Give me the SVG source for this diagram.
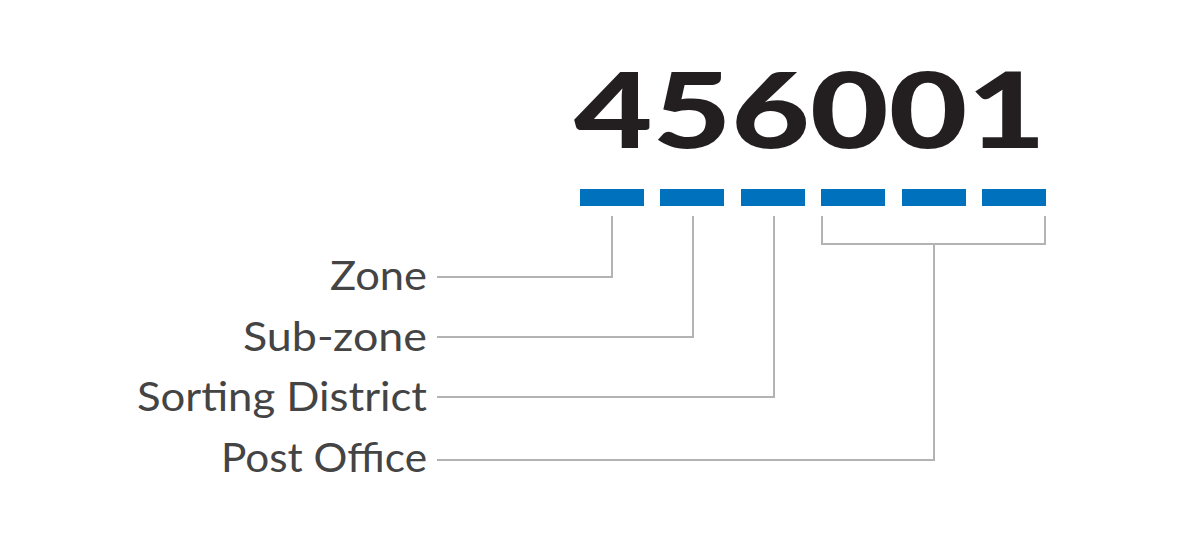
<svg xmlns="http://www.w3.org/2000/svg" width="1200" height="545" viewBox="0 0 1200 545">
<style>
.bar{fill:#0071bc}
.ln{fill:none;stroke:#b3b3b3;stroke-width:2}
.lb{font-family:Lato,"Open Sans",sans-serif;font-size:40px;fill:#444;text-anchor:end}
</style>
<rect width="1200" height="545" fill="#fff"/>
<g id="code"><text x="574" y="148" font-family="Lato,'Liberation Sans',sans-serif" font-weight="900" font-size="104" fill="#231f20" textLength="472" lengthAdjust="spacingAndGlyphs">456001</text></g>
<g id="bars">
<rect class="bar" x="580" y="189" width="64" height="17"/>
<rect class="bar" x="660" y="189" width="64" height="17"/>
<rect class="bar" x="741" y="189" width="64" height="17"/>
<rect class="bar" x="821" y="189" width="64" height="17"/>
<rect class="bar" x="902" y="189" width="64" height="17"/>
<rect class="bar" x="982" y="189" width="64" height="17"/>
</g>
<g id="connectors">
<polyline class="ln" points="612,216 612,277 437,277"/>
<polyline class="ln" points="693,216 693,337 437,337"/>
<polyline class="ln" points="774,216 774,397 437,397"/>
<polyline class="ln" points="822,216 822,244 1045,244 1045,216"/>
<polyline class="ln" points="934,244 934,460 437,460"/>
</g>
<g id="zone"><text class="lb" x="427" y="290" textLength="97" lengthAdjust="spacingAndGlyphs">Zone</text></g>
<g id="subzone"><text class="lb" x="427" y="351" textLength="184" lengthAdjust="spacingAndGlyphs">Sub-zone</text></g>
<g id="sorting"><text class="lb" x="427" y="411" textLength="290" lengthAdjust="spacingAndGlyphs">Sorting District</text></g>
<g id="post"><text class="lb" x="427" y="472" textLength="206" lengthAdjust="spacingAndGlyphs">Post Office</text></g>
</svg>
